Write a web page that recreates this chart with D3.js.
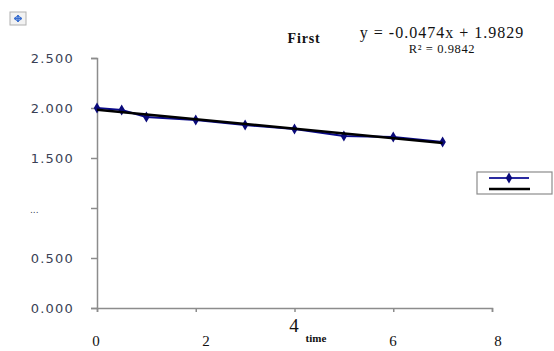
<!DOCTYPE html>
<html>
<head>
<meta charset="utf-8">
<script src="https://cdn.jsdelivr.net/npm/d3@7"></script>
<style>
  body { margin: 0; background: #fff; }
  svg { display: block; }
</style>
</head>
<body>
<div id="chart"></div>
<script>
// data
const times = [0, 0.5, 1, 2, 3, 4, 5, 6, 7];
const values = [2.00, 1.98, 1.91, 1.88, 1.83, 1.79, 1.72, 1.71, 1.66];
const yTicks = [0, 0.5, 1.0, 1.5, 2.0, 2.5];
const xTicks = [0, 2, 4, 6, 8];
const xLabelPos = { 0: 96, 2: 206, 4: 294, 6: 393, 8: 498 }; // labels sit off their ticks in the picture
const trendSlope = -0.0474;
const trendIntercept = 1.9829;
const trendRange = [0, 7];
const chartTitle = 'First';
const eqLabel = 'y = -0.0474x + 1.9829';
const r2Label = 'R² = 0.9842';

const width = 554, height = 351;
const margin = { top: 58, right: 62, bottom: 43, left: 97 };

const svg = d3.select('#chart').append('svg')
  .attr('width', width)
  .attr('height', height);

const x = d3.scaleLinear().domain([0, 8]).range([margin.left, width - margin.right]);
const y = d3.scaleLinear().domain([0, 2.5]).range([height - margin.bottom, margin.top]);

const axisColor = '#8c8c8c';
const serif = 'Liberation Serif, Times New Roman, serif';

// y axis
const yAxis = svg.append('g')
  .attr('transform', `translate(${margin.left},0)`)
  .call(d3.axisLeft(y).tickValues(yTicks).tickSize(6).tickFormat(''));
yAxis.select('.domain').attr('stroke', axisColor).attr('stroke-width', 1.5);
yAxis.selectAll('.tick line').attr('stroke', axisColor).attr('stroke-width', 1.5);

// y tick labels (1.000 came out as a smudge in the picture)
svg.append('g').selectAll('text')
  .data(yTicks)
  .join('text')
  .attr('x', d => d === 1 ? 30 : 74)
  .attr('y', d => y(d) + 5)
  .attr('text-anchor', d => d === 1 ? 'start' : 'end')
  .attr('font-family', 'DejaVu Sans, Verdana, sans-serif')
  .attr('font-size', d => d === 1 ? 9 : 13)
  .attr('letter-spacing', d => d === 1 ? 0 : 1.2)
  .attr('fill', '#3a3f55')
  .text(d => d === 1 ? '...' : d3.format('.3f')(d));

// x axis
const xAxis = svg.append('g')
  .attr('transform', `translate(0,${y(0)})`)
  .call(d3.axisBottom(x).tickValues(xTicks).tickSize(4).tickFormat(''));
xAxis.select('.domain').attr('stroke', axisColor).attr('stroke-width', 1.5);
xAxis.selectAll('.tick line').attr('stroke', axisColor).attr('stroke-width', 1.5);

svg.append('g').selectAll('text')
  .data(xTicks)
  .join('text')
  .attr('x', d => xLabelPos[d])
  .attr('y', d => d === 4 ? 332 : 346)
  .attr('text-anchor', 'middle')
  .attr('font-family', serif)
  .attr('font-size', d => d === 4 ? 19 : 15)
  .attr('fill', '#111')
  .text(d => d);

svg.append('text')
  .attr('x', 316)
  .attr('y', 342)
  .attr('text-anchor', 'middle')
  .attr('font-family', serif)
  .attr('font-weight', 'bold')
  .attr('font-size', 11)
  .attr('fill', '#111')
  .text('time');

// series line
const pts = times.map((t, i) => ({ t, v: values[i] }));
svg.append('path')
  .datum(pts)
  .attr('fill', 'none')
  .attr('stroke', '#0a0a8a')
  .attr('stroke-width', 2)
  .attr('d', d3.line().x(d => x(d.t)).y(d => y(d.v)));

const diamond = d3.symbol().type(d3.symbolDiamond).size(36);
svg.append('g').selectAll('path')
  .data(pts)
  .join('path')
  .attr('transform', d => `translate(${x(d.t)},${y(d.v)})`)
  .attr('d', diamond)
  .attr('fill', '#0a0a7a');

// linear trendline
svg.append('line')
  .attr('x1', x(trendRange[0]))
  .attr('y1', y(trendIntercept + trendSlope * trendRange[0]))
  .attr('x2', x(trendRange[1]))
  .attr('y2', y(trendIntercept + trendSlope * trendRange[1]))
  .attr('stroke', '#000')
  .attr('stroke-width', 2.5);

// title and equation
svg.append('text')
  .attr('x', 304)
  .attr('y', 43)
  .attr('text-anchor', 'middle')
  .attr('font-family', serif)
  .attr('font-weight', 'bold')
  .attr('font-size', 14)
  .attr('letter-spacing', 0.8)
  .attr('fill', '#111')
  .text(chartTitle);

svg.append('text')
  .attr('x', 442)
  .attr('y', 38)
  .attr('text-anchor', 'middle')
  .attr('font-family', serif)
  .attr('font-size', 16)
  .attr('letter-spacing', 1)
  .attr('fill', '#111')
  .text(eqLabel);

svg.append('text')
  .attr('x', 442)
  .attr('y', 53)
  .attr('text-anchor', 'middle')
  .attr('font-family', serif)
  .attr('font-size', 12.5)
  .attr('letter-spacing', 0.6)
  .attr('fill', '#111')
  .text(r2Label);

// legend
const lg = svg.append('g').attr('transform', 'translate(477,172)');
lg.append('rect')
  .attr('width', 75).attr('height', 22)
  .attr('fill', '#fff')
  .attr('stroke', '#8c8c8c')
  .attr('stroke-width', 1.2);
lg.append('line')
  .attr('x1', 12).attr('x2', 52).attr('y1', 6).attr('y2', 6)
  .attr('stroke', '#2a2aa0').attr('stroke-width', 2);
lg.append('path')
  .attr('transform', 'translate(32,6)')
  .attr('d', diamond)
  .attr('fill', '#0a0a7a');
lg.append('line')
  .attr('x1', 12).attr('x2', 53).attr('y1', 17).attr('y2', 17)
  .attr('stroke', '#000').attr('stroke-width', 2.5);

// move handle icon in the corner
const ic = svg.append('g').attr('transform', 'translate(10,12)');
ic.append('rect')
  .attr('width', 16).attr('height', 13)
  .attr('fill', '#f2f2f2')
  .attr('stroke', '#b0b0b0');
ic.append('path')
  .attr('d', 'M4,6.5H12M8,3V10M4,6.5l2,-1.5v3zM12,6.5l-2,-1.5v3zM8,3l-1.5,2h3zM8,10l-1.5,-2h3z')
  .attr('stroke', '#3a6fd0')
  .attr('stroke-width', 1)
  .attr('fill', '#3a6fd0');
</script>
</body>
</html>
